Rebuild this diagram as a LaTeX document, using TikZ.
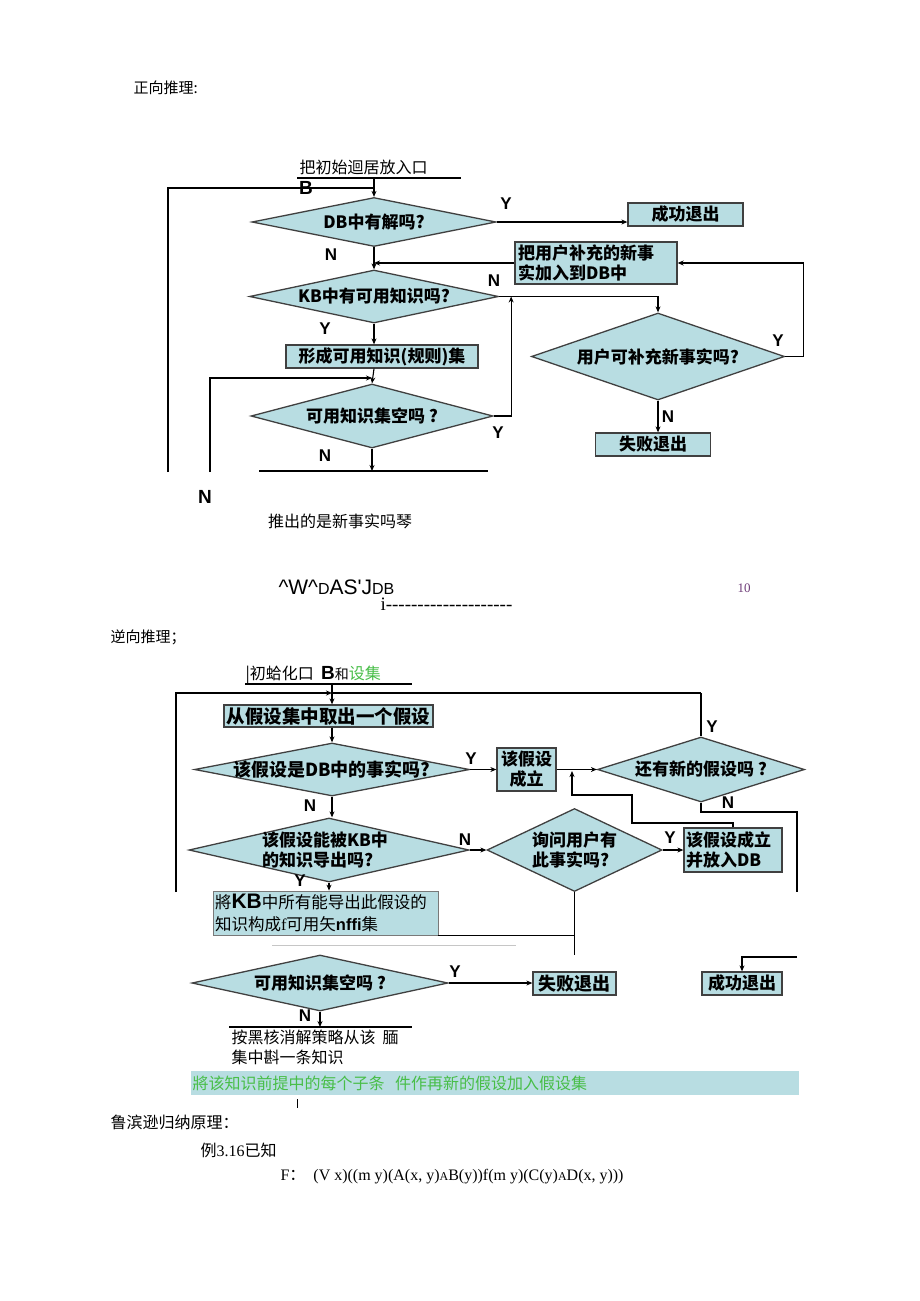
\documentclass[tikz,border=0pt]{standalone}
\usepackage{fontspec}
\setmainfont{Noto Sans CJK SC}
\newfontfamily\lserif{Liberation Serif}[Ligatures=TeXOff]
\newfontfamily\lsans{Liberation Sans}[Ligatures=TeXOff]
\usetikzlibrary{shapes.geometric, arrows.meta}
\definecolor{boxfill}{RGB}{184,221,226}
\definecolor{lineg}{RGB}{64,64,64}
\definecolor{grn}{RGB}{72,190,72}
\definecolor{pnum}{RGB}{110,60,120}
\newcommand{\fsz}[2]{\fontsize{#1}{#2}\selectfont}

\begin{document}
\begin{tikzpicture}[x=1pt, y=-1pt, line width=1.1pt,
  dia/.style={diamond, draw=lineg, fill=boxfill, line width=1.3pt, inner sep=0pt},
  dtext/.style={font=\bfseries\fsz{17}{20}, align=left, inner sep=0pt},
  box/.style={draw=lineg, fill=boxfill, line width=1.3pt, inner sep=1pt, font=\bfseries\fsz{17}{20}},
  yn/.style={font=\bfseries\lsans\fsz{17}{17}, inner sep=0pt},
  arr/.style={-{Stealth[length=6pt,width=5pt]}},
  txt/.style={font=\fsz{16}{20}, inner sep=0pt},
]
\fill[white] (0,0) rectangle (920,1301);

% forward reasoning
\node[txt, font=\fsz{15}{18}, anchor=west] (fwd) at (133,88) {正向推理:};
\node[txt, anchor=west] (init) at (299,167) {把初始迴居放入口};
\coordinate (u1a) at (297,178);
\coordinate (u1b) at (461,178);
\draw (u1a) -- (u1b);
\node[font=\bfseries\lsans\fsz{19}{19}, inner sep=0pt] (bb) at (306,188) {B};

\node[dia, minimum width=244pt, minimum height=49pt, label={[dtext]center:DB中有解吗?}] (d1) at (374,222) {};
\coordinate (in1) at (374,178);
\draw[arr] (in1) -- (d1.north);
\coordinate (lpa) at (168,472);
\coordinate (lpb) at (374,188);
\draw (lpa) |- (lpb);

\node[box, minimum width=115pt, minimum height=23pt] (ok1) at (685.5,214.5) {成功退出};
\draw[arr] (d1.east) -- (d1.east -| ok1.west);
\node[yn] (y1) at (506,204) {Y};
\node[yn] (n1) at (331,255) {N};

\node[box, minimum width=162pt, minimum height=42pt, text width=156pt, align=left] (add) at (596,263) {把用户补充的新事\\实加入到DB中};
\draw[arr] (add.west) -- (add.west -| d1.south);

\node[dia, minimum width=249pt, minimum height=53pt, label={[dtext]center:KB中有可用知识吗?}] (d2) at (374,296.5) {};
\draw[arr] (d1.south) -- (d2.north);
\node[yn] (n2) at (494,281) {N};

\node[dia, minimum width=253pt, minimum height=87pt, label={[dtext]center:用户可补充新事实吗?}] (d4) at (658,356.5) {};
\draw[arr] (d2.east) -| (d4.north);
\node[yn] (y4) at (778,341) {Y};
\draw[arr] (d4.east) -- ++(18,0) |- (add.east);
\node[yn] (n4) at (668,417) {N};
\node[box, minimum width=115pt, minimum height=23pt] (fail1) at (653,444.5) {失败退出};
\draw[arr] (d4.south) -- (d4.south |- fail1.north);

\node[yn] (y2) at (325,329) {Y};
\node[box, minimum width=192pt, minimum height=23pt] (rule) at (382,356.5) {形成可用知识(规则)集};
\draw[arr] (d2.south) -- (d2.south |- rule.north);

\node[dia, minimum width=242pt, minimum height=64pt, label={[dtext]center:可用知识集空吗 ?}] (d3) at (372,416) {};
\draw[arr] (d2.south |- rule.south) -- (d3.north);
\coordinate (lpc) at (210,472);
\coordinate (lpd) at (372,378);
\draw[arr] (lpc) |- (lpd);
\draw[arr] (d3.east) -| ([xshift=12pt]d2.east);
\node[yn] (y3) at (498,433) {Y};
\node[yn] (n3) at (325,456) {N};
\coordinate (cut1) at (372,471);
\draw[arr] (d3.south) -- (cut1);
\coordinate (cut1a) at (259,471);
\coordinate (cut1b) at (488,471);
\draw (cut1a) -- (cut1b);

\node[font=\bfseries\lsans\fsz{19}{19}, inner sep=0pt] (nn) at (205,497) {N};
\node[txt] (newq) at (340,521) {推出的是新事实吗琴};
\node[font=\lsans\fsz{21}{21}, anchor=west, inner sep=0pt] (garb) at (278,587) {\^{}W\^{}{\fsz{16}{16}D}AS'J{\fsz{16}{16}DB}};
\node[font=\lserif\fsz{19}{19}, anchor=west, inner sep=0pt] (dash) at (380,604) {i--------------------};
\node[font=\lserif\fsz{13}{13}, text=pnum, inner sep=0pt] (pg) at (744,588) {10};

% backward reasoning
\node[txt, font=\fsz{15}{18}, anchor=west] (bwd) at (110,637) {逆向推理；};
\node[txt, anchor=west] (init2) at (245,675) {|初蛤化口\ \ {\bfseries\lsans\fsz{19}{19}B}{\fsz{14}{14}和}{\color{grn}设集}};
\coordinate (u2a) at (245,684);
\coordinate (u2b) at (412,684);
\draw (u2a) -- (u2b);
\coordinate (in2) at (332,684);
\node[box, minimum width=209pt, minimum height=22pt, font=\bfseries\fsz{18.5}{20}] (take) at (328.5,716) {从假设集中取出一个假设};
\draw[arr] (in2) -- (in2 |- take.north);
\coordinate (lpe) at (176,892);
\coordinate (lpf) at (701,693);
\coordinate (lpg) at (332,693);
\draw[arr] (lpe) |- (lpg);
\draw (lpg) -- (lpf);

\node[dia, minimum width=275pt, minimum height=53pt, label={[dtext, font=\bfseries\fsz{18}{20}]center:该假设是DB中的事实吗?}] (d5) at (332,769.5) {};
\draw[arr] (d5.north |- take.south) -- (d5.north);
\node[yn] (y5) at (471,759) {Y};
\node[box, minimum width=59pt, minimum height=43pt, align=center] (hyp) at (526.5,769.5) {该假设\\成立};
\draw[arr] (d5.east) -- (hyp.west);
\node[dia, minimum width=207pt, minimum height=65pt, label={[dtext]center:还有新的假设吗 ?}] (d6) at (701,769.5) {};
\draw[arr] (hyp.east) -- (d6.west);
\draw (lpf) -- (d6.north);
\node[yn] (y6) at (712,727) {Y};
\node[yn] (n6) at (728,803) {N};
\coordinate (rt0) at (797,812);
\coordinate (rt1) at (797,892);
\draw (d6.south) |- (rt0) -- (rt1);

\node[yn] (n5) at (310,806) {N};
\node[dia, minimum width=280pt, minimum height=64pt, label={[dtext, xshift=-4pt]center:该假设能被KB中\\的知识导出吗?}] (d7) at (329,850) {};
\draw[arr] (d5.south) -- (d5.south |- d7.north);
\node[yn] (n7) at (465,840) {N};
\node[dia, minimum width=175pt, minimum height=83pt, label={[dtext]center:询问用户有\\此事实吗?}] (d8) at (574.5,850) {};
\draw[arr] (d7.east) -- (d8.west);
\node[yn] (y8) at (670,838) {Y};
\node[box, minimum width=98pt, minimum height=44pt, text width=94pt, align=left] (hypdb) at (733,850) {该假设成立\\并放入DB};
\draw[arr] (d8.east) -- (hypdb.west);
\coordinate (rb2) at (632,823);
\coordinate (rb4) at (572,795);
\coordinate (rb5) at (572,771);
\draw[arr] (hypdb.north) |- (rb2) |- (rb4) -- (rb5);

\node[box, draw=lineg!70, line width=0.8pt, font=\fsz{16.5}{22}, minimum width=225pt, minimum height=44pt, text width=221pt, align=left, inner sep=2pt] (kbset) at (325.5,913) {將{\bfseries\lsans\fsz{21}{21}KB}中所有能导出此假设的\\知识构成{\lserif f}可用矢{\bfseries\lsans nffi}集};
\draw[arr] (d7.south) -- (d7.south |- kbset.north);
\node[yn] (y7) at (300,881) {Y};
\coordinate (ds1) at (574.5,955);
\draw (d8.south) -- (ds1);
\draw (kbset.south east) -- (kbset.south east -| ds1);
\coordinate (gl1) at (272,945);
\coordinate (gl2) at (516,945);
\draw[gray!45, line width=0.6pt] (gl1) -- (gl2);

\coordinate (rt2) at (797,957);
\node[box, minimum width=80pt, minimum height=23pt] (ok2) at (742,983.5) {成功退出};
\draw[arr] (rt2) -| (ok2.north);

\node[dia, minimum width=256pt, minimum height=56pt, label={[dtext]center:可用知识集空吗 ?}] (d9) at (320,983) {};
\node[yn] (y9) at (455,972) {Y};
\node[box, minimum width=83pt, minimum height=23pt, font=\bfseries\fsz{18}{20}] (fail2) at (574.5,983.5) {失败退出};
\draw[arr] (d9.east) -- (d9.east -| fail2.west);
\node[yn] (n9) at (305,1016) {N};
\coordinate (ct2) at (320,1027);
\draw[arr] (d9.south) -- (ct2);
\coordinate (u3a) at (229,1027);
\coordinate (u3b) at (412,1027);
\draw (u3a) -- (u3b);
\node[txt, anchor=north west, align=left] (pick) at (231,1029) {按黑核消解策略从该\ \ 腼\\集中斟一条知识};

\node[fill=boxfill, anchor=west, inner xsep=2pt, inner ysep=0pt, text width=604pt, minimum height=24pt, text=grn, font=\fsz{16}{20}] (band) at (190,1083) {將该知识前提中的每个子条\ \ 件作再新的假设加入假设集};
\coordinate (tk1) at (297,1099);
\coordinate (tk2) at (297,1108);
\draw[line width=0.8pt] (tk1) -- (tk2);

\node[txt, anchor=west] (rob) at (110,1122) {鲁滨逊归纳原理：};
\node[txt, anchor=west] (ex) at (200,1150) {例{\lserif 3.16}已知};
\node[txt, anchor=west, font=\lserif\fsz{16}{20}] (fml) at (280,1177) {F{\rmfamily ：}\ \ (V x)((m y)(A(x, y){\fsz{12}{12}A}B(y))f(m y)(C(y){\fsz{12}{12}A}D(x, y)))};
\end{tikzpicture}
\end{document}
